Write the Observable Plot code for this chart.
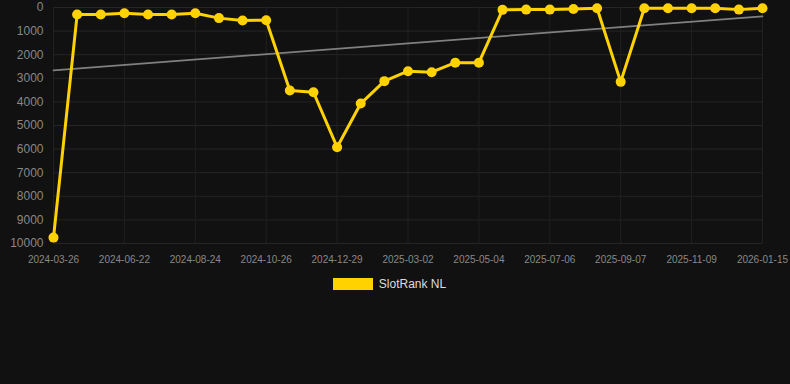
<!DOCTYPE html>
<html>
<head>
<meta charset="utf-8">
<script src="https://cdn.jsdelivr.net/npm/d3@7"></script>
<script src="https://cdn.jsdelivr.net/npm/@observablehq/plot@0.6"></script>
<style>
  html, body { margin: 0; padding: 0; background: #111111; width: 790px; height: 384px; overflow: hidden; }
  body { font-family: "Liberation Sans", Arial, sans-serif; }
  #legend { display: flex; justify-content: center; align-items: center; margin-top: 8px; height: 12px; padding-right: 11px; }
  #legend .sw { width: 40px; height: 12px; background: #FFD200; margin-right: 6px; }
  #legend .lb { color: #dddddd; font-size: 12px; }
</style>
</head>
<body>
<div id="chart"></div>
<div id="legend"><div class="sw"></div><div class="lb">SlotRank NL</div></div>
<script>
const tickLabels = ["2024-03-26","2024-06-22","2024-08-24","2024-10-26","2024-12-29","2025-03-02","2025-05-04","2025-07-06","2025-09-07","2025-11-09","2026-01-15"];
const ranks = [9750,300,300,240,300,300,240,450,550,540,3520,3590,5920,4070,3120,2700,2740,2340,2340,100,90,90,60,30,3150,30,30,30,30,90,30];
const seriesName = "SlotRank NL";

const data = ranks.map((v, i) => ({i, v}));
const tickIdx = tickLabels.map((_, k) => k * 3);

const plot = Plot.plot({
  width: 790,
  height: 270,
  marginLeft: 53,
  marginRight: 28,
  marginTop: 7,
  marginBottom: 27,
  style: {background: "#111111", color: "#888888", fontFamily: "'Liberation Sans', Arial, sans-serif", fontSize: "11px"},
  x: {type: "linear", domain: [0, 30], label: null},
  y: {domain: [0, 10000], reverse: true, label: null},
  marks: [
    Plot.gridY(d3.range(0, 10001, 1000), {stroke: "#252525", strokeOpacity: 1, strokeWidth: 1}),
    Plot.gridX(tickIdx, {stroke: "#202020", strokeOpacity: 1, strokeWidth: 1}),
    Plot.axisY({ticks: d3.range(0, 10001, 1000), tickSize: 0, tickPadding: 10, fontSize: 12, fill: "#888888", tickFormat: d => String(d), label: null}),
    Plot.axisX({ticks: tickIdx, tickSize: 0, tickPadding: 12, fontSize: 10, fill: "#888888", tickFormat: d => tickLabels[d / 3], label: null}),
    Plot.linearRegressionY(data, {x: "i", y: "v", stroke: "#808080", strokeWidth: 1.8, ci: 0}),
    Plot.line(data, {x: "i", y: "v", stroke: "#FFD200", strokeWidth: 3}),
    Plot.dot(data, {x: "i", y: "v", r: 5, fill: "#FFD200", stroke: "none"})
  ]
});
document.getElementById("chart").appendChild(plot);
</script>
</body>
</html>
